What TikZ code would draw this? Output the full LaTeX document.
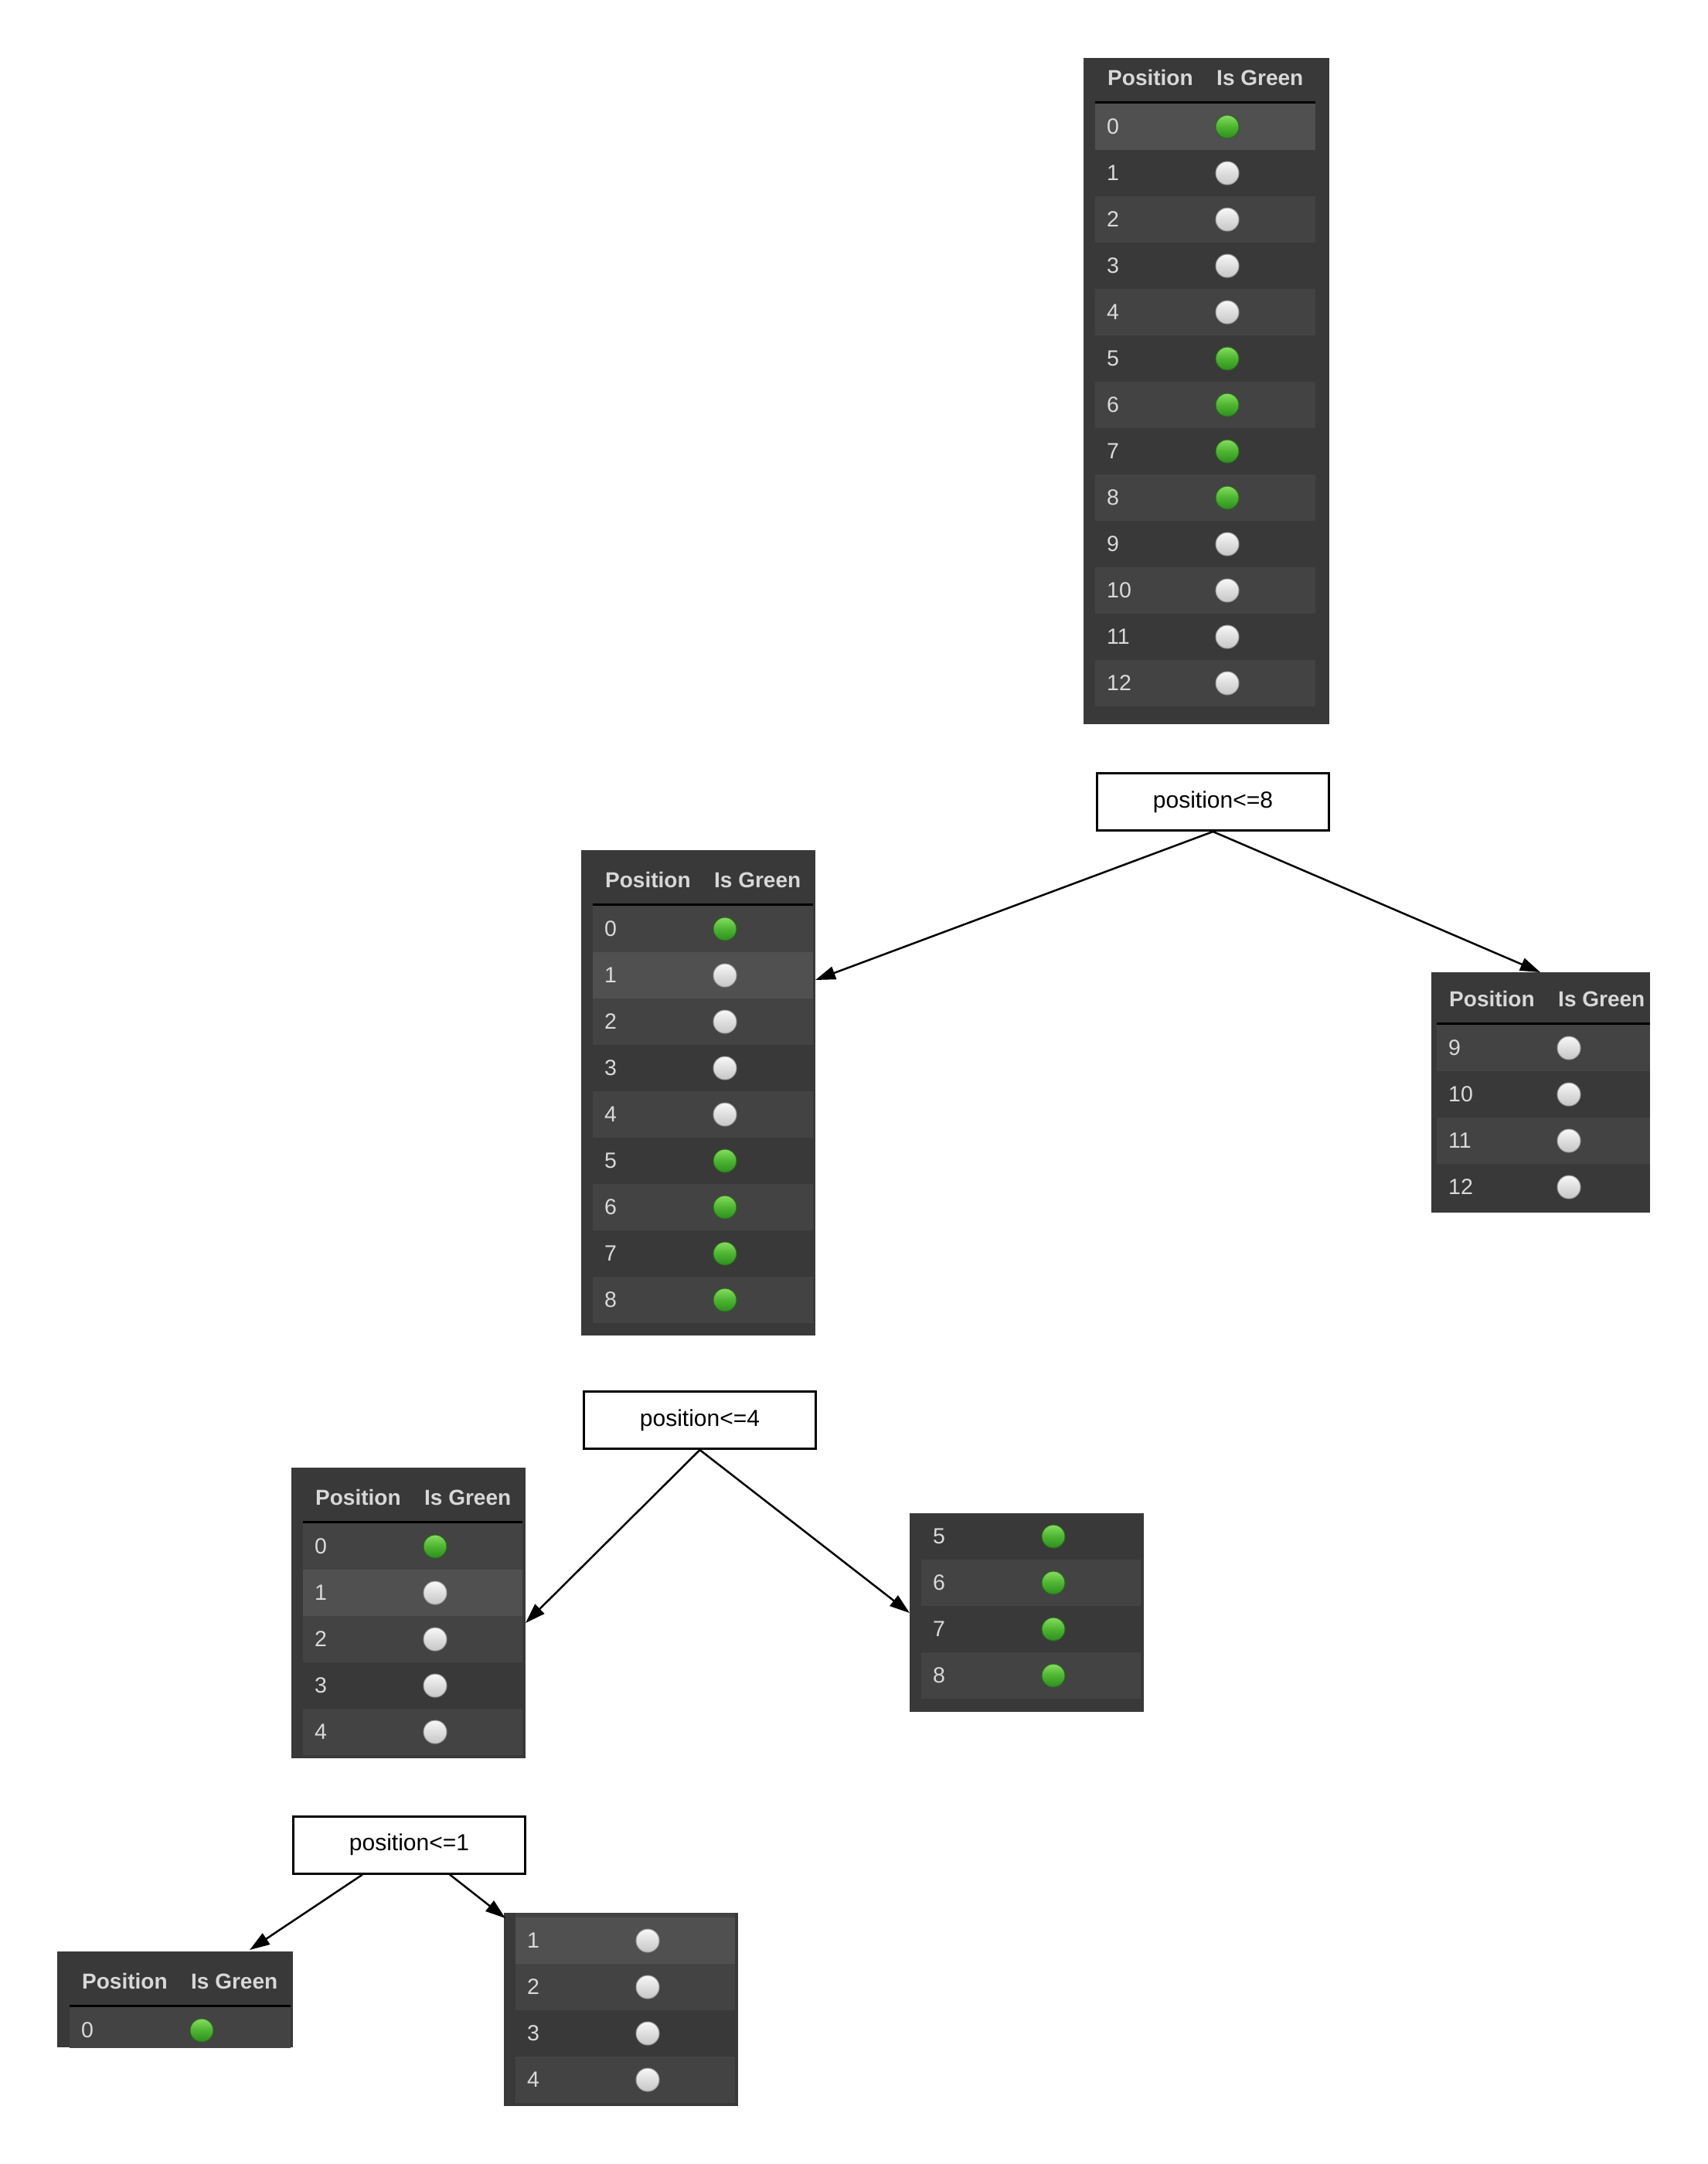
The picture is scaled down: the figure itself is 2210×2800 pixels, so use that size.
\documentclass[tikz,border=0pt]{standalone}
\usepackage{fontspec}
\setmainfont{Liberation Sans}
\usetikzlibrary{arrows.meta}
\definecolor{tblbg}{HTML}{393939}
\definecolor{rowmedc}{HTML}{434343}
\definecolor{rowhic}{HTML}{505050}
\definecolor{celltext}{HTML}{DADADA}
\definecolor{hdrtext}{HTML}{D8D8D8}
\definecolor{gtop}{HTML}{86DC60}
\definecolor{gmid}{HTML}{4CB530}
\definecolor{gbot}{HTML}{2E8E1F}
\definecolor{gedge}{HTML}{2A6A1B}
\definecolor{wtop}{HTML}{F8F8F8}
\definecolor{wmid}{HTML}{DEDEDE}
\definecolor{wbot}{HTML}{C6C6C6}
\definecolor{wedge}{HTML}{9A9A9A}
\tikzset{
  tbl/.style={fill=tblbg, draw=none, inner sep=0pt, outer sep=0pt, anchor=north west},
  dbox/.style={draw=black, line width=3bp, fill=white, inner sep=0pt, minimum width=300bp, minimum height=74bp, font=\fontsize{30bp}{35bp}\selectfont},
  conn/.style={line width=2.5bp, -{Triangle[length=26bp,width=17bp]}},
  digit/.style={anchor=west, text=celltext, inner sep=0pt, font=\fontsize{28.5bp}{32bp}\selectfont},
  hdr/.style={anchor=west, text=hdrtext, inner sep=0pt, font=\bfseries\fontsize{28bp}{32bp}\selectfont},
  hline/.style={draw=black, line width=3bp},
  rowmed/.style={fill=rowmedc},
  rowhi/.style={fill=rowhic},
  rownone/.style={},
  gball/.style={shade, top color=gtop, bottom color=gbot, middle color=gmid, draw=gedge, line width=1bp},
  wball/.style={shade, top color=wtop, bottom color=wbot, middle color=wmid, draw=wedge, line width=1bp},
}
% #1 prefix, #2 row left, #3 row right, #4 row top, #5 row style, #6 label, #7 ball style
\newcommand\tabrow[7]{%
  \path[#5] (#2,{#4}) rectangle (#3,{#4+60});
  \node[digit] (#1-#6) at ({#2+15},{#4+30}) {#6};
  \path[#7] ({#2+171},{#4+30}) circle (15bp);
}
% #1 prefix, #2 row left, #3 row right, #4 line y
\newcommand\tabhead[4]{%
  \node[hdr] (#1-hp) at ({#2+16},{#4-32}) {Position};
  \node[hdr] (#1-hg) at ({#2+157},{#4-32}) {Is Green};
  \draw[hline] (#2,#4) -- (#3,#4);
}
\begin{document}
\begin{tikzpicture}[x=1bp,y=-1bp]
\useasboundingbox[fill=white] (0,0) rectangle (2210,2800);

% ---- table 1 (top, 0-12)
\node[tbl, minimum width=318bp, minimum height=862bp] (t1) at (1402,75) {};
\tabhead{t1}{1417}{1702}{132.5}
\foreach \n/\rs/\bl in {0/rowhi/gball,1/rownone/wball,2/rowmed/wball,3/rownone/wball,4/rowmed/wball,5/rownone/gball,6/rowmed/gball,7/rownone/gball,8/rowmed/gball,9/rownone/wball,10/rowmed/wball,11/rownone/wball,12/rowmed/wball}{
  \tabrow{t1}{1417}{1702}{134+60*\n}{\rs}{\n}{\bl}
}

% ---- decision 1
\node[dbox] (b1) at (1569.5,1037.5) {position<=8};

% ---- table 2 (0-8)
\node[tbl, minimum width=303bp, minimum height=628bp] (t2) at (752,1100) {};
\tabhead{t2}{767}{1052}{1170.5}
\foreach \n/\rs/\bl in {0/rowmed/gball,1/rowhi/wball,2/rowmed/wball,3/rownone/wball,4/rowmed/wball,5/rownone/gball,6/rowmed/gball,7/rownone/gball,8/rowmed/gball}{
  \tabrow{t2}{767}{1052}{1172+60*\n}{\rs}{\n}{\bl}
}

% ---- table 3 (9-12)
\node[tbl, minimum width=283bp, minimum height=311bp] (t3) at (1852,1258) {};
\tabhead{t3}{1859}{2135}{1324.5}
\foreach \n/\rs/\bl in {9/rowmed/wball,10/rownone/wball,11/rowmed/wball,12/rownone/wball}{
  \tabrow{t3}{1859}{2135}{1326+60*(\n-9)}{\rs}{\n}{\bl}
}

% ---- decision 2
\node[dbox] (b2) at (905.5,1837.5) {position<=4};

% ---- table 4 (0-4)
\node[tbl, minimum width=303bp, minimum height=376bp] (t4) at (377,1899) {};
\tabhead{t4}{392}{676}{1969.5}
\foreach \n/\rs/\bl in {0/rowmed/gball,1/rowhi/wball,2/rowmed/wball,3/rownone/wball,4/rowmed/wball}{
  \tabrow{t4}{392}{676}{1971+60*\n}{\rs}{\n}{\bl}
}

% ---- table 5 (5-8)
\node[tbl, minimum width=303bp, minimum height=257bp] (t5) at (1177,1958) {};
\foreach \n/\rs/\bl in {5/rownone/gball,6/rowmed/gball,7/rownone/gball,8/rowmed/gball}{
  \tabrow{t5}{1192}{1476}{1958+60*(\n-5)}{\rs}{\n}{\bl}
}

% ---- decision 3
\node[dbox] (b3) at (529.5,2387) {position<=1};

% ---- table 6 (1-4)
\node[tbl, minimum width=303bp, minimum height=250bp] (t6) at (652,2475) {};
\fill[rowmedc] (667,2475) rectangle (951,2481);
\foreach \n/\rs/\bl in {1/rowhi/wball,2/rowmed/wball,3/rownone/wball,4/rowmed/wball}{
  \tabrow{t6}{667}{951}{2481+60*(\n-1)}{\rs}{\n}{\bl}
}

% ---- table 7 (0)
\node[tbl, minimum width=305bp, minimum height=124bp] (t7) at (74,2525) {};
\tabhead{t7}{90}{376}{2595.5}
\begin{scope}
  \clip (74,2525) rectangle (379,2649);
  \tabrow{t7}{90}{376}{2597}{rowmed}{0}{gball}
\end{scope}

% ---- connectors
\coordinate (e1) at (1055,1268);
\coordinate (e2) at (1993,1258);
\coordinate (e3) at (680,2100);
\coordinate (e4) at (1177,2087);
\coordinate (e5) at (323,2523);
\coordinate (e6) at (654,2482);
\draw[conn] (b1.south) -- (e1);
\draw[conn] (b1.south) -- (e2);
\draw[conn] (b2.south) -- (e3);
\draw[conn] (b2.south) -- (e4);
\draw[conn] ([xshift=-60.5bp]b3.south) -- (e5);
\draw[conn] ([xshift=52.5bp]b3.south) -- (e6);
\end{tikzpicture}
\end{document}
